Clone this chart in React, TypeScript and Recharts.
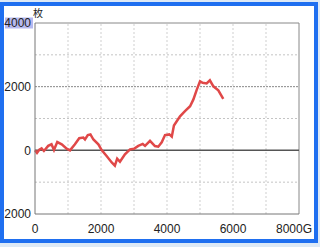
import React from "react";
import { LineChart, Line, XAxis, YAxis, ReferenceLine } from "recharts";

const games: number[] = [0, 60, 130, 200, 270, 400, 500, 575, 675, 810, 960, 1060, 1210, 1340, 1465, 1515, 1600, 1680, 1770, 1920, 2020, 2170, 2325, 2420, 2490, 2575, 2725, 2880, 3000, 3130, 3265, 3335, 3485, 3635, 3735, 3840, 3940, 4070, 4145, 4210, 4300, 4395, 4545, 4700, 4800, 4900, 5000, 5080, 5200, 5300, 5405, 5555, 5705];
const coins: number[] = [0, -80, 20, 60, -20, 140, 190, 10, 260, 190, 50, 0, 190, 380, 400, 340, 480, 500, 340, 190, 10, -180, -380, -480, -260, -360, -125, 30, 50, 140, 200, 140, 300, 135, 115, 250, 480, 500, 430, 780, 920, 1070, 1230, 1385, 1600, 1900, 2170, 2120, 2100, 2200, 2010, 1885, 1615];

const xTicks: number[] = [0, 2000, 4000, 6000, 8000];
const yTicks: number[] = [-2000, 0, 2000, 4000];
const xGrid: number[] = [1000, 2000, 3000, 4000, 5000, 6000, 7000];
const yGridLight: number[] = [-1000, 1000, 3000];

const data = games.map((g, i) => ({ g, v: coins[i] }));

const FONT = "'Liberation Sans', Arial, sans-serif";

const XTick = (props: any) => {
  const { x, y, payload } = props;
  const isLast = payload.value === 8000;
  return (
    <text
      x={isLast ? x + 13 : x}
      y={y}
      dy="0.71em"
      textAnchor={isLast ? "end" : "middle"}
      fontSize={12}
      fontFamily={FONT}
      fill="#222"
    >
      {isLast ? "8000G" : String(payload.value)}
    </text>
  );
};

const YTick = (props: any) => {
  const { x, y, payload } = props;
  const hl = payload.value === 4000;
  return (
    <g>
      {hl && <rect x={5} y={y - 5.5} width={28} height={11} fill="#b6b9f0" />}
      <text x={x} y={y} dy="0.355em" textAnchor="end" fontSize={12} fontFamily={FONT} fill="#222">
        {String(payload.value)}
      </text>
    </g>
  );
};

export default function App() {
  return (
    <div style={{ position: "absolute", left: 0, top: 0, width: 320, height: 247, background: "#dde9f6", overflow: "hidden" }}>
      <div style={{ position: "absolute", left: 0, top: 2, width: 318, height: 241, background: "#ffffff" }} />
      <div style={{ position: "absolute", left: 0, top: 0 }}>
        <LineChart width={320} height={247} data={data} margin={{ top: 23, right: 21, bottom: 0, left: 0 }}>
          <XAxis
            dataKey="g"
            type="number"
            domain={[0, 8000]}
            ticks={xTicks}
            height={33}
            tickLine={false}
            tickSize={8}
            axisLine={{ stroke: "#777", strokeWidth: 1 }}
            tick={<XTick />}
            interval={0}
          />
          <YAxis
            type="number"
            domain={[-2000, 4000]}
            ticks={yTicks}
            width={35}
            tickLine={false}
            tickSize={2}
            axisLine={{ stroke: "#777", strokeWidth: 1 }}
            tick={<YTick />}
            interval={0}
          />
          {xGrid.map((v) => (
            <ReferenceLine key={"x" + v} x={v} stroke="#cfcfcf" strokeDasharray="2 2" strokeWidth={1} />
          ))}
          {yGridLight.map((v) => (
            <ReferenceLine key={"y" + v} y={v} stroke="#c4c4c4" strokeDasharray="2 2" strokeWidth={1} />
          ))}
          <ReferenceLine y={2000} stroke="#888" strokeDasharray="2 1" strokeWidth={1} />
          <ReferenceLine y={4000} stroke="#888" strokeWidth={1} />
          <ReferenceLine x={8000} stroke="#888" strokeWidth={1} />
          <ReferenceLine y={0} stroke="#555" strokeWidth={1.5} />
          <Line
            dataKey="v"
            type="linear"
            stroke="#e04848"
            strokeWidth={2.5}
            dot={false}
            isAnimationActive={false}
          />
        </LineChart>
      </div>
      <span style={{ position: "absolute", left: 33, top: 7, fontSize: 10, fontFamily: "'Noto Sans CJK JP', sans-serif", color: "#222", lineHeight: "12px" }}>
        枚
      </span>
      <div
        style={{
          position: "absolute",
          left: 0,
          top: 2,
          width: 318,
          height: 241,
          boxSizing: "border-box",
          border: "4px solid #1f6ff0",
          pointerEvents: "none",
        }}
      />
    </div>
  );
}
